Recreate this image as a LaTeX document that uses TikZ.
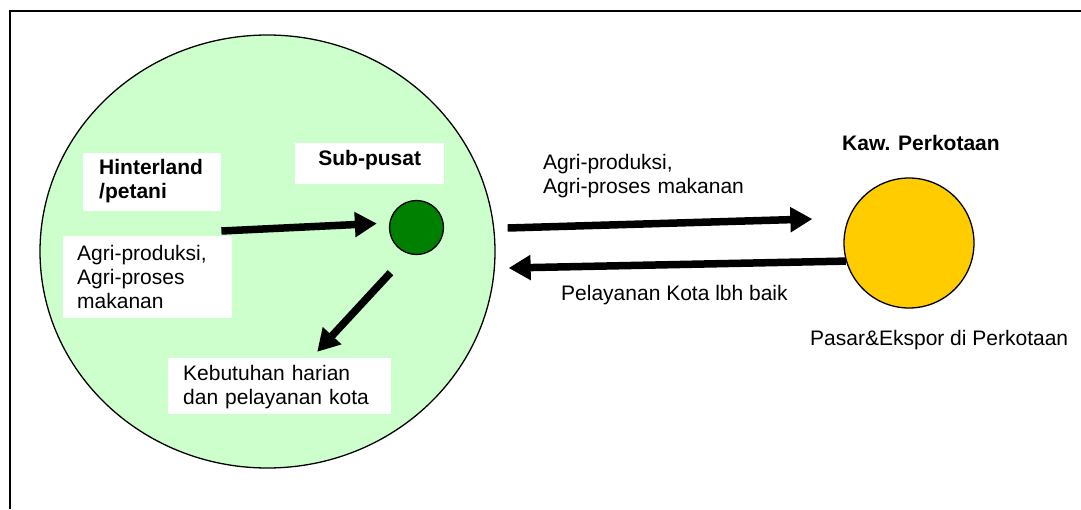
\documentclass[tikz,border=0pt]{standalone}
\usepackage{fontspec}
\setmainfont{Liberation Sans}
\usetikzlibrary{arrows.meta,shapes.geometric,calc}
\definecolor{paleGreen}{HTML}{CCFFCC}
\definecolor{deepGreen}{HTML}{008000}
\definecolor{goldYellow}{HTML}{FFCC00}
\begin{document}
\begin{tikzpicture}[x=1pt,y=-1pt,
  every node/.style={font=\fontsize{21}{24}\selectfont},
  whitebox/.style={fill=white, inner ysep=0pt, align=left, anchor=base west},
  lbl/.style={inner sep=0pt, anchor=base west, align=left},
  flow/.style={line width=7.5pt, -{Triangle[length=22pt,width=24pt]}},
  disc/.style={circle, draw=black, line width=1.3pt, inner sep=0pt}
]
\useasboundingbox (0,0) rectangle (1081,509);
% frame
\draw[line width=2pt] (10,509) -- (10,11) -- (1081,11);
% big hinterland area
\node[ellipse, draw=black, line width=1.3pt, fill=paleGreen, inner sep=0pt,
      minimum width=455, minimum height=433] (area) at (267.5,251.5) {};
% sub-centre and city
\node[disc, fill=deepGreen, minimum size=54] (sub) at (416.5,227.5) {};
\node[disc, fill=goldYellow, minimum size=130] (city) at (909,243) {};
% white boxes
\node[whitebox, inner xsep=16pt, text width=106pt, text height=21pt, text depth=37pt,
      font=\fontsize{21}{24}\selectfont\bfseries] (hint) at (83,174) {Hinterland\\/petani};
\node[whitebox, inner xsep=22.5pt, text width=104pt, align=center, text height=22pt, text depth=19pt,
      font=\fontsize{21}{24}\selectfont\bfseries] (subl) at (295,165) {Sub-pusat};
\node[whitebox, inner xsep=14pt, text width=141pt, text height=24pt, text depth=58pt] (agril) at (63,260)
  {Agri-produksi,\\Agri-proses\\makanan};
\node[whitebox, inner xsep=15pt, text width=193pt, text height=22pt, text depth=34pt] (keb) at (168,380)
  {Kebutuhan harian\\dan pelayanan kota};
% free labels
\node[lbl, text width=260pt] (agrir) at (543,169) {Agri-produksi,\\Agri-proses makanan};
\node[lbl] (pel) at (561,300) {Pelayanan Kota lbh baik};
\node[lbl, font=\fontsize{21}{24}\selectfont\bfseries] (kaw) at (842,150) {Kaw. Perkotaan};
\node[lbl] (pasar) at (810,345) {Pasar\&Ekspor di Perkotaan};
% arrows
\coordinate (h1) at ($(hint.east)+(0,49)$);
\draw[flow] (h1) -- ($(sub.west)+(-12,-4)$);
\draw[flow] ($(sub.south)+(-26,17.5)$) -- ($(keb.north)+(37.5,-6)$);
\draw[flow] ($(area.east)+(12,-23.5)$) -- ($(city.west)+(-31,-24)$);
\draw[flow] (city.196) -- ($(area.east)+(13,16.5)$);
\end{tikzpicture}
\end{document}
